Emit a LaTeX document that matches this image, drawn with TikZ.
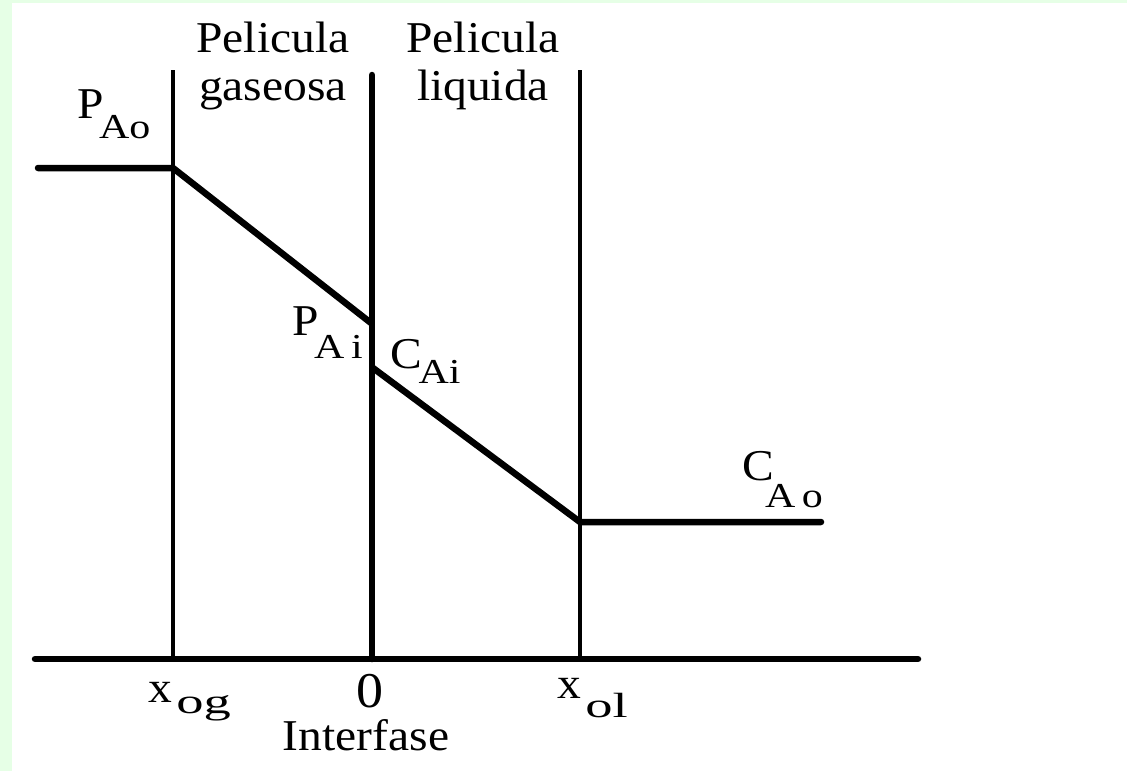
\documentclass[tikz,border=0pt]{standalone}
\usepackage{fontspec}
\setmainfont[FakeStretch=1.08]{Liberation Serif}
\definecolor{paleframe}{RGB}{230,255,230}
% main letter with a lowered subscript
\newcommand{\sublab}[3][20pt]{#2\raisebox{-#1}{\scalebox{1.11}[1]{\fontsize{35}{35}\selectfont #3}}}

\begin{document}
\begin{tikzpicture}[x=1pt, y=-1pt,
    thinline/.style={line width=3.5pt},
    thickline/.style={line width=6.5pt, line cap=round, line join=round},
    lab/.style={inner sep=0pt, anchor=base west, font=\fontsize{44}{48}\selectfont}]
    \useasboundingbox (0,0) rectangle (1127,771);
    \fill[paleframe] (0,0) rectangle (1127,771);
    \fill[white] (12,3) rectangle (1127,771);

    % Define the points of the axis and film borders
    \coordinate (L) at (35,659);
    \coordinate (R) at (918,659);
    \coordinate (G) at (173,659);
    \coordinate (G2) at (173,70);
    \coordinate (I) at (372,659);
    \coordinate (I2) at (372,75);
    \coordinate (Q) at (580,659);
    \coordinate (Q2) at (580,70);

    % Define the points of the profile
    \coordinate (Pgas) at (38,168);
    \coordinate (Pao) at (173,168);
    \coordinate (Pai) at (371,323);
    \coordinate (Cai) at (373,368);
    \coordinate (Cao) at (580,522);
    \coordinate (Cliq) at (821,522);

    % Draw the film borders
    \draw[thinline] (G) -- (G2);
    \draw[thickline] (I) -- (I2);
    \draw[thinline] (Q) -- (Q2);

    % Draw the axis
    \draw[thickline] (L) -- (R);

    % Draw the profile
    \draw[thickline] (Pgas) -- (Pao) -- (Pai);
    \draw[thickline] (Cai) -- (Cao) -- (Cliq);

    % Labels
    \node[lab, anchor=base, align=center] (gas) at (273,100) {Pelicula\\gaseosa};
    \node[lab, anchor=base, align=center] (liq) at (483,100) {Pelicula\\liquida};
    \node[lab] (pao) at (77,118) {\sublab{P}{\hspace{-4pt}Ao}};
    \node[lab] (pai) at (292,335) {\sublab[23pt]{P}{\hspace{-4pt}A\hspace{6pt}i}};
    \node[lab] (cai) at (390,368) {\sublab[15pt]{C}{\hspace{-3pt}Ai}};
    \node[lab] (cao) at (742,480) {\sublab[27pt]{C}{\hspace{-8pt}A\hspace{6pt}o}};
    \node[lab] (xog) at (148,702) {\sublab[11pt]{x}{\hspace{4pt}\scalebox{1.3}[1]{og}}};
    \node[lab] (xol) at (557,698) {\sublab[19pt]{x}{\hspace{4pt}\scalebox{1.3}[1]{ol}}};
    \node[lab, anchor=base, font=\fontsize{50}{50}\selectfont] (zero) at (370,707) {0};
    \node[lab, anchor=base] (intf) at (366,750) {Interfase};
\end{tikzpicture}
\end{document}
